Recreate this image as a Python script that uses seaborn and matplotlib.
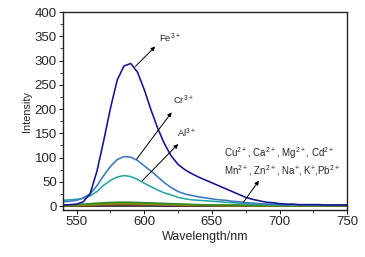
import numpy as np
import pandas as pd
import matplotlib
matplotlib.use("Agg")
import matplotlib.pyplot as plt
import seaborn as sns

# wavelength grid (nm)
wl = list(range(540, 755, 5))

fe = [2, 3, 4, 9, 26, 72, 135, 202, 260, 289, 294, 276, 240, 198, 160, 128, 103, 86,
      75, 67, 60, 54, 48, 42, 36, 30, 24, 18, 14, 11, 8, 7, 5, 4, 4, 3, 3, 3, 3, 2, 2, 2, 2]
cr = [9, 10, 12, 17, 25, 42, 63, 82, 96, 102, 101, 94, 83, 72, 60, 48, 38, 30,
      25, 22, 19, 17, 15, 13, 12, 10, 9, 7, 6, 5, 4, 4, 3, 3, 3, 2, 2, 2, 2, 2, 2, 2, 2]
al = [12, 13, 14, 16, 21, 30, 43, 53, 60, 63, 61, 55, 47, 40, 33, 27, 23, 18,
      15, 13, 12, 11, 10, 9, 8, 7, 6, 5, 4, 4, 3, 3, 3, 3, 2, 2, 2, 2, 2, 2, 2, 2, 2]

# weak responses (coarser grid)
wl2 = list(range(540, 760, 10))
cu = [2, 3, 5, 7, 8, 8, 7, 6, 5, 4, 3, 2.5, 2, 2, 1.5, 1.5, 1, 1, 1, 1, 1, 1]
ca = [1, 2, 3, 5, 6, 6, 5, 4, 3.5, 3, 2, 2, 1.5, 1, 1, 1, 1, 1, 1, 1, 1, 1]
mg = [1, 1.5, 2.5, 4, 5, 5, 4, 3.5, 3, 2, 2, 1.5, 1, 1, 1, 1, 1, 1, 1, 1, 1, 1]
cd = [1, 1, 2, 3, 4, 4, 3.5, 3, 2, 2, 1.5, 1, 1, 1, 1, 1, 1, 1, 1, 1, 1, 1]
mn = [0.5, 1, 1.5, 2.5, 3, 3, 3, 2.5, 2, 1.5, 1, 1, 1, 1, 0.5, 0.5, 0.5, 0.5, 0.5, 0.5, 0.5, 0.5]
zn = [0.5, 1, 1, 2, 2.5, 2.5, 2, 2, 1.5, 1, 1, 1, 0.5, 0.5, 0.5, 0.5, 0.5, 0.5, 0.5, 0.5, 0.5, 0.5]
na = [0, 0.5, 1, 1.5, 2, 2, 2, 1.5, 1, 1, 0.5, 0.5, 0.5, 0.5, 0.5, 0.5, 0.5, 0.5, 0.5, 0.5, 0.5, 0.5]
k = [0, 0, 0.5, 1, 1, 1, 1, 1, 0.5, 0.5, 0.5, 0.5, 0, 0, 0, 0, 0, 0, 0, 0, 0, 0]
pb = [-0.5, 0, 0, 0.5, 0.5, 0.5, 0.5, 0.5, 0, 0, 0, 0, 0, 0, 0, 0, 0, 0, 0, 0, 0, 0]

main_ions = ['Fe', 'Cr', 'Al']
minor_ions = ['Cu', 'Ca', 'Mg', 'Cd', 'Mn', 'Zn', 'Na', 'K', 'Pb']
colors = {'Fe': '#14148f', 'Cr': '#3b78bd', 'Al': '#27a6a6',
          'Cu': '#2e8b22', 'Ca': '#7f8a10', 'Mg': '#9a8a18', 'Cd': '#5e6b20',
          'Mn': '#6b3a1f', 'Zn': '#8b4513', 'Na': '#4b2a6b', 'K': '#2a2a2a', 'Pb': '#000000'}

frames = []
for name, vals in zip(main_ions, [fe, cr, al]):
    frames.append(pd.DataFrame({'wl': wl, 'I': vals, 'ion': name}))
for name, vals in zip(minor_ions, [cu, ca, mg, cd, mn, zn, na, k, pb]):
    frames.append(pd.DataFrame({'wl': wl2, 'I': vals, 'ion': name}))
df = pd.concat(frames, ignore_index=True)

sns.set_style("ticks")
plt.rcParams['font.family'] = ['Liberation Sans', 'DejaVu Sans']
plt.rcParams['mathtext.default'] = 'regular'

fig = plt.figure(figsize=(3.65, 2.57), dpi=100)
ax = fig.add_axes([0.173, 0.183, 0.778, 0.770])

hue_order = minor_ions[::-1] + main_ions[::-1]
sns.lineplot(data=df, x='wl', y='I', hue='ion', hue_order=hue_order, palette=colors,
             linewidth=1.15, legend=False, ax=ax)

ax.set_xlim(540, 750)
ax.set_ylim(-8, 400)
ax.set_xticks([550, 600, 650, 700, 750])
ax.set_xticks([575, 625, 675, 725], minor=True)
ax.set_yticks(range(0, 401, 50))
ax.set_yticks(range(25, 400, 50), minor=True)
ax.tick_params(which='major', direction='out', length=3, width=0.8, labelsize=9.5, pad=1.5)
ax.tick_params(which='minor', direction='out', length=2, width=0.6)
for s in ax.spines.values():
    s.set_linewidth(1.0)
    s.set_color('#222222')
ax.set_xlabel('Wavelength/nm', fontsize=9, labelpad=2)
ax.set_ylabel('Intensity', fontsize=7.8, labelpad=2)

arrow = dict(arrowstyle='-|>', color='black', lw=0.7, mutation_scale=6)
ax.annotate('', xy=(609.5, 333), xytext=(592, 284), arrowprops=arrow)
ax.text(611, 345, 'Fe$^{3+}$', fontsize=6.8, va='center')
ax.annotate('', xy=(621.5, 198), xytext=(593, 92), arrowprops=arrow)
ax.text(621, 218, 'Cr$^{3+}$', fontsize=6.8, va='center')
ax.annotate('', xy=(626.5, 132), xytext=(597, 48), arrowprops=arrow)
ax.text(624, 150, 'Al$^{3+}$', fontsize=6.8, va='center')
ax.annotate('', xy=(686, 57), xytext=(672, 3), arrowprops=arrow)
ax.text(659, 109, 'Cu$^{2+}$, Ca$^{2+}$, Mg$^{2+}$, Cd$^{2+}$', fontsize=7, va='center')
ax.text(659, 74, 'Mn$^{2+}$, Zn$^{2+}$, Na$^{+}$, K$^{+}$,Pb$^{2+}$', fontsize=7, va='center')

fig.savefig('out.png', dpi=100)
